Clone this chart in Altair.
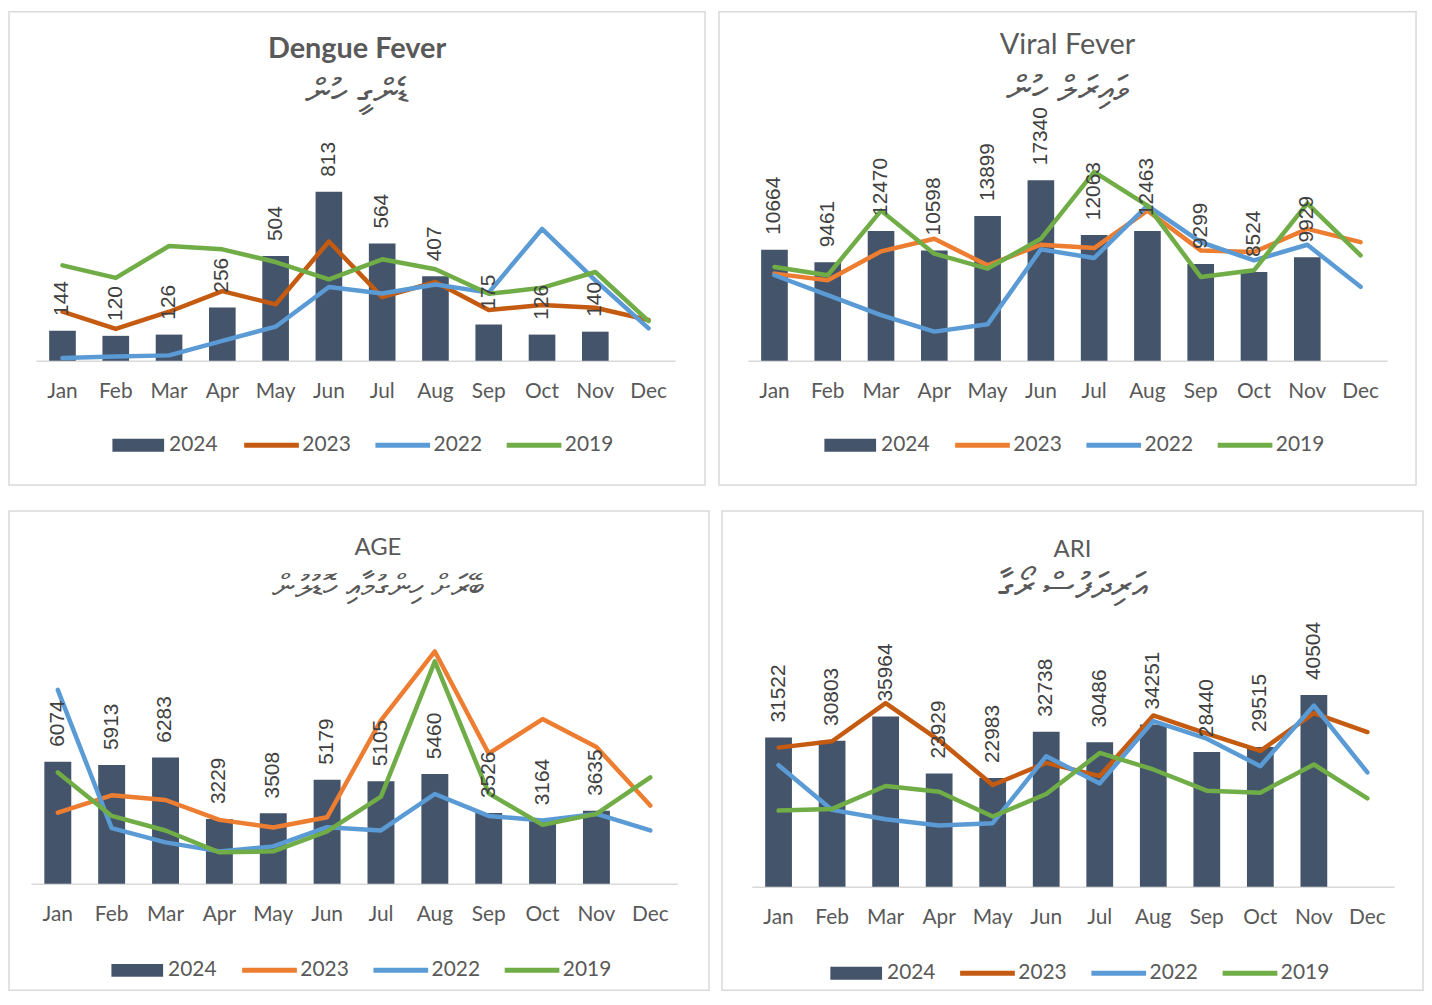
import altair as alt
import pandas as pd

months = ["Jan", "Feb", "Mar", "Apr", "May", "Jun", "Jul", "Aug", "Sep", "Oct", "Nov", "Dec"]
line_years = ["2023", "2022", "2019"]

dengue_2024 = [144, 120, 126, 256, 504, 813, 564, 407, 175, 126, 140]
dengue_2023 = [236, 153, 236, 335, 271, 574, 306, 379, 244, 268, 255, 196]
dengue_2022 = [13, 21, 26, 96, 164, 355, 324, 367, 328, 634, 387, 156]
dengue_2019 = [459, 399, 552, 536, 475, 392, 488, 440, 322, 351, 427, 191]

viral_2024 = [10664, 9461, 12470, 10598, 13899, 17340, 12063, 12463, 9299, 8524, 9929]
viral_2023 = [8369, 7732, 10501, 11710, 9164, 11137, 10819, 14414, 10596, 10437, 12664, 11392]
viral_2022 = [8210, 6300, 4391, 2800, 3500, 10692, 9864, 14892, 11392, 9641, 11137, 7096]
viral_2019 = [9005, 8210, 14414, 10278, 8846, 11710, 18137, 14892, 8050, 8687, 15115, 10119]

age_2024 = [6074, 5913, 6283, 3229, 3508, 5179, 5105, 5460, 3526, 3164, 3635]
age_2023 = [3545, 4403, 4172, 3183, 2803, 3314, 8130, 11560, 6481, 8196, 6810, 3892]
age_2022 = [9647, 2770, 2061, 1616, 1863, 2820, 2655, 4469, 3380, 3150, 3479, 2655]
age_2019 = [5541, 3380, 2655, 1567, 1616, 2605, 4337, 11065, 4502, 2935, 3479, 5293]

ari_2024 = [31522, 30803, 35964, 23929, 22983, 32738, 30486, 34251, 28440, 29515, 40504]
ari_2023 = [29383, 30712, 38758, 30922, 21478, 26165, 23367, 36169, 32322, 28684, 36659, 32671]
ari_2022 = [25675, 16231, 14272, 12943, 13432, 27564, 21828, 34980, 31272, 25465, 38268, 24136]
ari_2019 = [16091, 16441, 21268, 20079, 14832, 19589, 28264, 24766, 20288, 19869, 25815, 18679]

BAR = "#44546A"
BLUE = "#5B9BD5"
GREEN = "#70AD47"
GREY = "#595959"


def panel(title, subtitle, b24, l23, l22, l19, c23, W, H, xr, base, px_per_unit,
          leg_bar_x, leg_line_x, leg_y, title_size, title_weight, title_off, sub_pad, sub_size,
          title_dx=0):
    bars_df = pd.DataFrame({"month": months[:len(b24)], "value": b24, "series": "2024"})
    lines_df = pd.DataFrame({
        "month": months * 3,
        "value": l23 + l22 + l19,
        "series": ["2023"] * 12 + ["2022"] * 12 + ["2019"] * 12,
        "order": [0] * 12 + [1] * 12 + [2] * 12,
    })
    xscale = alt.Scale(domain=months, range=xr, paddingInner=0.5, paddingOuter=0.25)
    yscale = alt.Scale(domain=[0, base / px_per_unit], range=[base, 0], zero=False, nice=False)
    xaxis = alt.Axis(orient="bottom", offset=-(H - base), ticks=False, labelPadding=20,
                     domainColor="#D9D9D9", domainWidth=1.5, labelFont="Lato",
                     labelFontSize=21, labelColor=GREY, labelAngle=0, title=None, grid=False)
    x = alt.X("month:N", sort=months, scale=xscale, axis=xaxis)
    y = alt.Y("value:Q", scale=yscale, axis=None)

    bars = alt.Chart(bars_df).mark_bar().encode(
        x=x, y=y,
        fill=alt.Fill("series:N", scale=alt.Scale(domain=["2024"], range=[BAR]),
                      legend=alt.Legend(orient="none", legendX=leg_bar_x, legendY=leg_y + 4,
                                        title=None, direction="horizontal",
                                        symbolType="M-1,-0.25H1V0.25H-1Z", symbolSize=2704,
                                        symbolStrokeWidth=0, labelFont="Lato", labelFontSize=21,
                                        labelColor=GREY, labelOffset=5, padding=0)),
    )
    lines = alt.Chart(lines_df).mark_line(strokeWidth=4.5, strokeCap="round", strokeJoin="round").encode(
        x=x, y=y,
        stroke=alt.Stroke("series:N", scale=alt.Scale(domain=line_years, range=[c23, BLUE, GREEN]),
                          legend=alt.Legend(orient="none", legendX=leg_line_x, legendY=leg_y,
                                            title=None, direction="horizontal",
                                            symbolType="stroke", symbolSize=3025,
                                            symbolStrokeWidth=5, labelFont="Lato",
                                            labelFontSize=21, labelColor=GREY, labelOffset=1,
                                            columnPadding=14, padding=0)),
        order="order:Q",
    )
    labels = alt.Chart(bars_df).mark_text(angle=270, align="left", baseline="middle", dx=15,
                                          font="Liberation Sans", fontSize=21, color="#404040").encode(
        x=x, y=y, text="value:Q"
    )
    return alt.layer(bars, lines, labels).properties(
        width=W, height=H,
        title=alt.TitleParams(text=title, subtitle=subtitle, anchor="middle", font="Lato",
                              fontSize=title_size, fontWeight=title_weight, color=GREY,
                              subtitleFont="Noto Sans", subtitleFontSize=sub_size,
                              subtitleColor=GREY, subtitlePadding=sub_pad, offset=title_off,
                              dx=title_dx),
    ).resolve_scale(fill="independent", stroke="independent")


p1 = panel("Dengue Fever", "ޑެންގީ ހުން", dengue_2024, dengue_2023, dengue_2022, dengue_2019,
           "#C55A11", 700, 476, [27, 670], 351, 170.0 / 813, 104, 234, 406, 29, "bold",
           -100, 13, 36)
p2 = panel("Viral Fever", "ވައިރަލް ހުން", viral_2024, viral_2023, viral_2022, viral_2019,
           "#ED7D31", 701, 476, [29, 672], 351, 181.67 / 17340, 106, 235, 406, 29, "normal",
           -97, 14, 36)
p3 = panel("AGE", "ބޭރަށް ހިންގުމާއި ހޮޑުލުން", age_2024, age_2023, age_2022, age_2019,
           "#ED7D31", 704, 482, [22, 672], 375, 127.0 / 6283, 103, 232, 432, 24, "normal",
           -93, 13, 32, 19)
p4 = panel("ARI", "އަރިދަފުސް ރޯގާ", ari_2024, ari_2023, ari_2022, ari_2019,
           "#C55A11", 705, 482, [30, 676], 378, 193.0 / 40504, 109, 237, 435, 24, "normal",
           -95, 9, 36)

row1 = alt.hconcat(p1, p2, spacing=12).resolve_scale(fill="independent", stroke="independent").resolve_legend(fill="independent", stroke="independent")
row2 = alt.hconcat(p3, p4, spacing=11).resolve_scale(fill="independent", stroke="independent").resolve_legend(fill="independent", stroke="independent")

chart = alt.vconcat(row1, row2, spacing=24).resolve_scale(
    fill="independent", stroke="independent"
).resolve_legend(fill="independent", stroke="independent").properties(
    padding=0, background="white"
).configure_view(stroke="#D9D9D9", strokeWidth=1.5)

chart.save("out.html", embed_options={"renderer": "svg", "actions": False})
